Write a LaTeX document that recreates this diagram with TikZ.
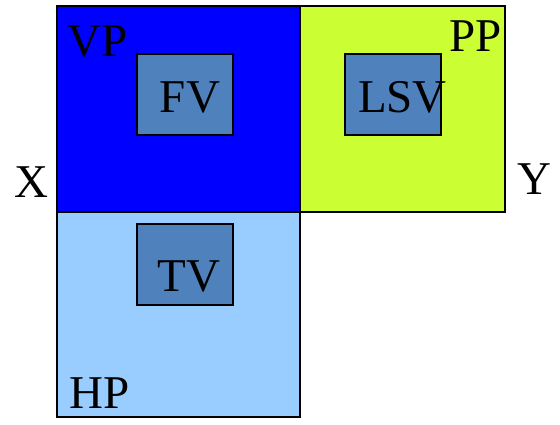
\documentclass[tikz,border=0pt]{standalone}
\usepackage{fontspec}
\setmainfont{Liberation Serif}
\definecolor{vpblue}{HTML}{0000FF}
\definecolor{ppgreen}{HTML}{CCFF33}
\definecolor{hpblue}{HTML}{99CCFF}
\definecolor{viewblue}{HTML}{4F81BD}
\begin{document}
\begin{tikzpicture}[x=1pt,y=-1pt,
  plane/.style={draw=black,line width=1.5pt,inner sep=0pt,outer sep=0pt},
  viewbox/.style={draw=black,line width=2pt,fill=viewblue,inner sep=0pt,outer sep=0pt,minimum width=96pt,minimum height=81pt},
  lbl/.style={anchor=base,inner sep=0pt,font=\fontsize{47}{52}\selectfont}]
\useasboundingbox (0,0) rectangle (560,425);
\node[plane,fill=vpblue,minimum width=243pt,minimum height=206pt] (vp) at (178.5,109) {};
\node[plane,fill=ppgreen,minimum width=205pt,minimum height=206pt] (pp) at (402.5,109) {};
\node[plane,fill=hpblue,minimum width=243pt,minimum height=205pt] (hp) at (178.5,314.5) {};
\node[viewbox] (fvbox) at (185,94.5) {};
\node[viewbox] (lsvbox) at (393,94.5) {};
\node[viewbox] (tvbox) at (185,264.5) {};
\node[lbl] (vplbl) at (97.5,57) {VP};
\node[lbl] (pplbl) at (476,52) {PP};
\node[lbl] (hplbl) at (100,408) {HP};
\node[lbl] (fv) at (190,113) {FV};
\node[lbl] (lsv) at (402.5,113) {LSV};
\node[lbl] (tv) at (189,291) {TV};
\node[lbl] (x) at (31,197) {X};
\node[lbl] (y) at (534,195) {Y};
\end{tikzpicture}
\end{document}
